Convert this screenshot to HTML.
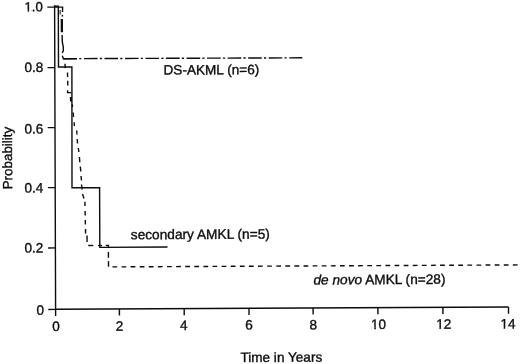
<!DOCTYPE html>
<html><head><meta charset="utf-8"><title>Survival probability</title>
<style>html,body{margin:0;padding:0;background:#fff;}svg{display:block;}</style></head>
<body><svg width="520" height="364" viewBox="0 0 520 364">
<rect width="520" height="364" fill="#fff"/>
<g stroke="#0c0c0c" stroke-width="1.4" fill="none" stroke-linecap="butt">
<polyline points="54.6,5.6 55.6,309.3 508.5,307.05"/>
<line x1="54.0" y1="6.2" x2="58.9" y2="6.2" stroke-width="1.5"/>
<line x1="47.3" y1="7.14" x2="54.6" y2="7.1" />
<line x1="47.5" y1="67.64" x2="54.8" y2="67.6" />
<line x1="47.7" y1="127.64" x2="55.0" y2="127.6" />
<line x1="47.9" y1="187.64" x2="55.2" y2="187.6" />
<line x1="48.1" y1="247.94" x2="55.4" y2="247.9" />
<line x1="48.3" y1="309.44" x2="55.6" y2="309.4" />
<line x1="55.6" y1="309.3" x2="55.62" y2="315.9" />
<line x1="119.4" y1="308.98" x2="119.42" y2="315.58" />
<line x1="184.2" y1="308.66" x2="184.22" y2="315.26" />
<line x1="249.0" y1="308.34" x2="249.02" y2="314.94" />
<line x1="313.1" y1="308.02" x2="313.12" y2="314.62" />
<line x1="377.9" y1="307.7" x2="377.92" y2="314.3" />
<line x1="442.9" y1="307.38" x2="442.92" y2="313.98" />
<line x1="508.5" y1="307.05" x2="508.52" y2="313.65" />
<polyline points="54.6,7.1 58.3,7.1 58.5,67.0 71.9,67.0 72.0,187.7 99.6,187.6 99.8,247.35 167.5,247.05" stroke-linejoin="miter"/>
<polyline points="58.3,7.1 62.6,7.1 62.5,12.1"/>
<line x1="62.4" y1="14.8" x2="62.4" y2="16.6" />
<line x1="61.8" y1="19" x2="61.9" y2="32.3" stroke-width="2.3"/>
<polyline points="62.1,35 62.3,42 63.3,47 63.3,50.8 62.2,52.8"/>
<polyline points="62.3,55.8 63.4,58.7 76.9,58.7"/>
<line x1="63.4" y1="58.7" x2="302.3" y2="57.8" stroke-dasharray="13.6 2.2 2.2 2.53"/>
<line x1="60.1" y1="10" x2="60.2" y2="14.5" stroke-width="1"/>
<line x1="65" y1="63.8" x2="65.3" y2="68.1" />
<line x1="67.5" y1="72.5" x2="67.6" y2="76.9" />
<line x1="67.7" y1="80.8" x2="67.8" y2="85.6" />
<line x1="72.2" y1="104.4" x2="72.5" y2="107" />
<line x1="73.2" y1="112.5" x2="73.5" y2="117" />
<line x1="74.1" y1="122.2" x2="74.4" y2="126" />
<line x1="76.7" y1="130.5" x2="77" y2="134.5" />
<line x1="77.2" y1="139" x2="77.5" y2="143.5" />
<line x1="78.3" y1="148" x2="78.9" y2="152" />
<line x1="79.4" y1="157" x2="79.8" y2="162.2" />
<line x1="80.3" y1="166.5" x2="80.8" y2="171.5" />
<line x1="81" y1="176" x2="81.5" y2="180.5" />
<line x1="81.5" y1="184.5" x2="82.1" y2="189.5" />
<line x1="82.5" y1="194" x2="84" y2="198.5" />
<line x1="84.9" y1="201.8" x2="85" y2="206" />
<line x1="85.1" y1="211" x2="85.2" y2="215.5" />
<line x1="85.3" y1="220" x2="85.4" y2="224.5" />
<line x1="85.5" y1="229" x2="85.6" y2="233.5" />
<polyline points="67.6,90.3 67.6,92.5 71.2,92.6"/>
<line x1="70.8" y1="97" x2="71" y2="101.5" stroke-width="2"/>
<line x1="87.0" y1="235.5" x2="87.1" y2="241.9" />
<line x1="88.2" y1="245.5" x2="93.2" y2="245.5" />
<line x1="98.1" y1="245.5" x2="102" y2="245.5" />
<polyline points="105.8,245.4 108.4,245.4 108.4,247.4"/>
<line x1="108.4" y1="251.9" x2="108.4" y2="257.8" />
<line x1="108.5" y1="261.2" x2="108.5" y2="266.7" />
<line x1="112.4" y1="266.9" x2="520" y2="264.9" stroke-dasharray="4.75 4.352"/>
</g>
<g fill="#0c0c0c" stroke="#0c0c0c" stroke-width="0.35" font-family="'Liberation Sans', Arial, Helvetica, sans-serif">
<text x="42.8" y="11.2" font-size="13.2" text-anchor="end" transform="rotate(-0.3 42.8 11.2)" >1.0</text>
<text x="43.3" y="72.0" font-size="13.6" text-anchor="end" transform="rotate(-0.3 43.3 72.0)" >0.8</text>
<text x="43.3" y="133.5" font-size="13.6" text-anchor="end" transform="rotate(-0.3 43.3 133.5)" >0.6</text>
<text x="43.3" y="192.5" font-size="13.6" text-anchor="end" transform="rotate(-0.3 43.3 192.5)" >0.4</text>
<text x="43.3" y="252.5" font-size="13.6" text-anchor="end" transform="rotate(-0.3 43.3 252.5)" >0.2</text>
<text x="44.0" y="314.8" font-size="13.6" text-anchor="end" transform="rotate(-0.3 44.0 314.8)" >0</text>
<text x="56" y="331" font-size="13.6" text-anchor="middle" transform="rotate(-0.3 56 331)" >0</text>
<text x="119.6" y="330.7" font-size="13.6" text-anchor="middle" transform="rotate(-0.3 119.6 330.7)" >2</text>
<text x="183.9" y="330.1" font-size="13.6" text-anchor="middle" transform="rotate(-0.3 183.9 330.1)" >4</text>
<text x="249.1" y="329.6" font-size="13.6" text-anchor="middle" transform="rotate(-0.3 249.1 329.6)" >6</text>
<text x="313.3" y="329.4" font-size="13.6" text-anchor="middle" transform="rotate(-0.3 313.3 329.4)" >8</text>
<text x="378.6" y="329.0" font-size="13.6" text-anchor="middle" transform="rotate(-0.3 378.6 329.0)" >10</text>
<text x="443.7" y="328.8" font-size="13.6" text-anchor="middle" transform="rotate(-0.3 443.7 328.8)" >12</text>
<text x="508" y="328.5" font-size="13.6" text-anchor="middle" transform="rotate(-0.3 508 328.5)" >14</text>
<text x="163.5" y="74.6" font-size="13.6" text-anchor="start" transform="rotate(-0.3 163.5 74.6)" >DS-AKML (n=6)</text>
<text x="130.8" y="239.3" font-size="13.7" text-anchor="start" transform="rotate(-0.3 130.8 239.3)" >secondary AMKL (n=5)</text>
<text x="313.5" y="284.5" font-size="13.66" text-anchor="start" transform="rotate(-0.3 313.5 284.5)" ><tspan font-style="italic">de novo</tspan> AMKL (n=28)</text>
<text x="240.4" y="362.1" font-size="13.6" text-anchor="start" transform="rotate(-0.3 240.4 362.1)" >Time in Years</text>
<text x="12.2" y="189.3" font-size="13.4" transform="rotate(-90.3 12.2 189.3)">Probability</text>
</g>
<g transform="rotate(-0.3 42.8 11.2)" fill="#fff" stroke="none"><rect x="24.96" y="9.41" width="2.59" height="2.69"/><rect x="29.16" y="9.41" width="2.49" height="2.69"/></g>
<g transform="rotate(-0.3 378.6 329.0)" fill="#fff" stroke="none"><rect x="371.57" y="327.18" width="2.66" height="2.72"/><rect x="375.88" y="327.18" width="2.56" height="2.72"/></g>
<g transform="rotate(-0.3 443.7 328.8)" fill="#fff" stroke="none"><rect x="436.67" y="326.98" width="2.66" height="2.72"/><rect x="440.98" y="326.98" width="2.56" height="2.72"/></g>
<g transform="rotate(-0.3 508 328.5)" fill="#fff" stroke="none"><rect x="500.97" y="326.68" width="2.66" height="2.72"/><rect x="505.28" y="326.68" width="2.56" height="2.72"/></g>
</svg></body></html>
